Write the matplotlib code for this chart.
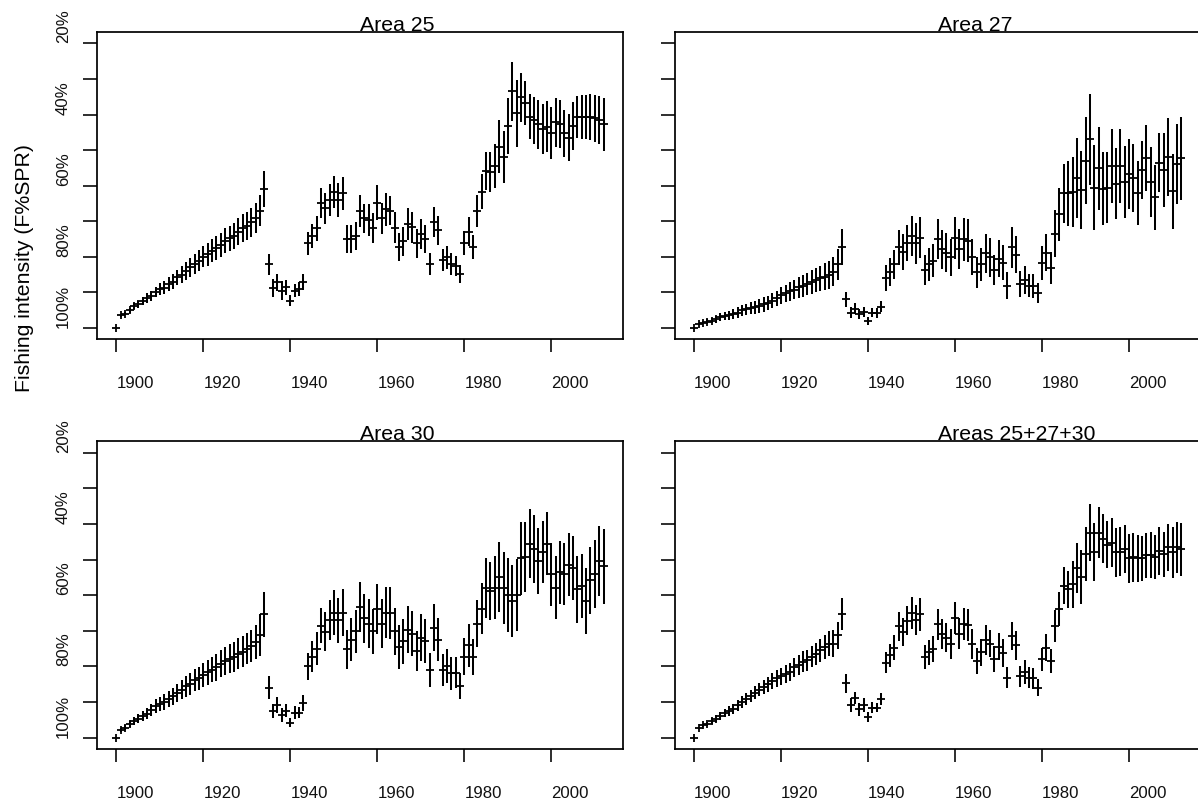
import matplotlib
matplotlib.use('Agg')
import matplotlib.pyplot as plt
import numpy as np

plt.rcParams['font.family'] = ['Liberation Sans', 'DejaVu Sans']

years = np.arange(1900, 2013)

# median fishing intensity per year
mean_25 = [100, 96.4, 96, 95, 93.9, 93.3, 92.4, 91.6, 90.9, 89.9,
           89, 88.7, 87.6, 87, 85.8, 85, 84, 83, 82.1, 81.1,
           80, 79.3, 78.3, 77.6, 76.7, 75.5, 74.8, 74.2, 72.9, 72,
           71.3, 70.3, 69.2, 67, 61, 82.1, 88.7, 87.2, 89.5, 88.6,
           92.3, 89.5, 89.1, 87.1, 76.2, 74.2, 72, 65, 66.4, 64,
           61.9, 64, 62.2, 75.1, 75.1, 74.1, 67, 69.2, 69.7, 72,
           64.8, 69.2, 66.7, 67, 71.8, 77.3, 75.6, 70.8, 71.7, 76.2,
           73.6, 75, 82.1, 70.2, 72.5, 80.9, 80.2, 82.1, 82.6, 84.8,
           76.2, 72.9, 77.3, 67, 61.7, 55.8, 56.1, 54.5, 49, 51.9,
           43.2, 33.5, 39.7, 35.2, 36.7, 40.6, 41.6, 42.7, 44.1, 43.4,
           45.3, 42.2, 42.7, 45.3, 46.5, 43.2, 40.7, 40.7, 40.7, 40.7,
           41.1, 41.6, 42.8]
err_25 = [0, .4, .5, .7, .9, 1, 1.2, 1.3, 1.4, 1.5,
          1.7, 1.8, 1.9, 2.1, 2.2, 2.4, 2.5, 2.6, 2.8, 2.9,
          3, 3.2, 3.2, 3.4, 3.4, 3.5, 3.5, 3.7, 3.7, 3.9,
          3.9, 4.1, 4.2, 4.4, 5, 2.9, 2.5, 2.5, 2.7, 2.1,
          1.5, 1.9, 2, 2.3, 3.3, 3.3, 3.5, 4.2, 4.4, 4.5,
          4.5, 4.7, 4.7, 3.9, 3.9, 4, 4.5, 4.1, 4.5, 4.2,
          4.9, 4.4, 4.6, 4.2, 4.4, 3.9, 4.1, 4.5, 4.4, 4.1,
          4.2, 3.9, 3.1, 4.2, 4.1, 3, 3.3, 3.1, 2.9, 2.6,
          3.4, 4, 3.4, 4.5, 5, 5.4, 5.7, 6.3, 7.4, 7.4,
          7.9, 8.2, 9.3, 7, 6.2, 6.3, 6.6, 6.9, 7.1, 7.2,
          7.3, 6.9, 6.8, 6.7, 6.6, 6.7, 5.9, 6.3, 6.3, 6.6,
          6.6, 6.8, 7.4]

mean_27 = [100, 98.9, 98.5, 98.2, 98, 97.6, 97, 96.7, 96.5, 96.1,
           95.7, 95.1, 94.8, 94.5, 94.2, 93.8, 93.4, 93.1, 92.3, 91.7,
           90.8, 90.3, 89.7, 89.2, 88.6, 88.1, 87.7, 87.1, 86.5, 86.1,
           85.6, 85.1, 84.2, 82.1, 77.3, 92, 95.7, 94.6, 96.1, 95.5,
           98, 95.7, 95.7, 94, 85.9, 84.2, 82.1, 77.3, 78.7, 76.2,
           74.2, 76.2, 74.6, 83.7, 82.1, 81.1, 75.1, 77.9, 78.8, 80.1,
           74.6, 77.8, 75.1, 75.5, 80.1, 84.4, 82.1, 79, 80.1, 83.7,
           80.5, 81.7, 88.1, 77.3, 79.4, 87.6, 86.5, 88.1, 88.1, 90.3,
           81.7, 78.8, 83.2, 73.5, 68.1, 62.2, 62.2, 61.8, 57.8, 61.2,
           53, 47, 60.6, 55.1, 60.9, 60.6, 54.5, 59.5, 54.5, 58.9,
           56.7, 57.8, 62.2, 55.6, 52.3, 58.9, 63.3, 53.5, 55.6, 51.9,
           61.6, 54, 52.3]
err_27 = [0, .3, .5, .6, .7, 1, 1.1, 1.1, 1.2, 1.3,
          1.5, 1.6, 1.6, 1.7, 1.8, 1.9, 2, 2, 2.1, 2.2,
          2.4, 2.5, 2.6, 2.8, 2.9, 3.1, 3.1, 3.3, 3.4, 3.6,
          3.8, 3.9, 4, 4.4, 5.1, 2.1, 1.6, 1.5, 1.3, 1.5,
          1.1, 1.3, 1.4, 1.5, 3.6, 3.9, 4.1, 4.9, 5, 5,
          5.7, 5.7, 5.8, 4.1, 4.7, 4.7, 5.6, 5.4, 5.5, 5.2,
          5.9, 5.7, 6, 6, 5, 4.4, 4.7, 5.5, 5.5, 4.1,
          5.2, 4.9, 3.7, 5.8, 5.2, 3.7, 3.9, 3.3, 3.4, 2.8,
          4.8, 5.2, 4.5, 6.6, 7.4, 8.4, 9.1, 9.9, 11.2, 10.9,
          12.2, 12.7, 11.9, 11.7, 10.3, 10, 10.5, 10, 10.3, 10.1,
          9.9, 9.6, 9, 8.1, 9.3, 9.8, 9.1, 8.4, 10.3, 10.9,
          10.6, 11.2, 11.7]

mean_30 = [100, 97.8, 97.3, 96.1, 95.4, 94.7, 93.9, 93.3, 92.3, 91.2,
           90.6, 90, 89.1, 88.4, 87.5, 86.5, 85.6, 85, 83.9, 83.4,
           82.5, 81.6, 80.9, 80.2, 79.2, 78.5, 77.8, 77.3, 76.4, 75.9,
           75, 74.3, 73.1, 71.3, 65.4, 86, 92.5, 90.9, 93.6, 92.5,
           95.8, 93, 93, 90.3, 80, 77.3, 75, 68.6, 70.3, 67,
           64.9, 67, 64.9, 75.2, 72.5, 70.2, 63.3, 66.5, 68, 70.2,
           63.8, 68, 64.9, 64.9, 70.2, 74.5, 73, 69.7, 70.8, 75.7,
           71.9, 72.9, 81.1, 69.2, 72.5, 81.1, 80, 82, 81.8, 85.5,
           77.3, 74.1, 77.3, 68, 63.8, 57.9, 58.9, 57.9, 55, 57.9,
           60, 61.6, 60, 49.7, 49.2, 45.5, 47.1, 50.4, 48, 45.5,
           54.2, 57.9, 53.6, 54.1, 51.4, 52.3, 58.4, 57.4, 61.6, 55.8,
           54.1, 50.4, 51.9]
err_30 = [0, .5, .7, .9, 1.1, 1.3, 1.4, 1.5, 1.7, 1.9,
          2, 2.2, 2.3, 2.4, 2.6, 2.7, 2.9, 3, 3.1, 3.3,
          3.4, 3.5, 3.6, 3.8, 3.9, 4, 4.1, 4.2, 4.3, 4.3,
          4.4, 4.6, 4.8, 5.9, 6.3, 3.3, 1.9, 2.3, 1.9, 1.8,
          1.2, 1.8, 1.6, 2.3, 3.8, 4.4, 4.7, 4.9, 5.5, 5.7,
          6.3, 6.3, 6.6, 5.5, 6, 6.1, 7.1, 6.8, 6.9, 6.3,
          7, 6.8, 7.2, 7.3, 6.6, 6.1, 6.2, 6.6, 6.3, 5.7,
          6.5, 6.2, 4.8, 6.6, 6, 4.5, 4.8, 4.5, 4.3, 3.6,
          5.2, 6.1, 5, 6.6, 7.1, 8.4, 8.2, 8.9, 9.8, 10.1,
          10.3, 10.1, 10.1, 10.2, 9.8, 9.6, 9.5, 9.3, 8.7, 8.9,
          8.8, 8.8, 8.8, 8.7, 8.8, 9, 9.3, 8.9, 9.3, 9.4,
          9.6, 9.9, 10.6]

mean_all = [100, 97.3, 96.6, 96.1, 95.4, 94.7, 93.9, 93.1, 92.5, 91.9,
            90.9, 90, 89.2, 88.3, 87.4, 86.5, 85.8, 85, 84.1, 83.4,
            82.8, 82.2, 81.6, 80.3, 79.7, 78.7, 78.3, 77.3, 76.6, 75.5,
            74.5, 73.6, 73.6, 71.3, 65.4, 84.8, 90.9, 89, 92.1, 90.9,
            94.2, 91.6, 91.6, 89.2, 79, 76.9, 74.7, 68.7, 70.3, 67.2,
            65, 67, 65.4, 77.3, 76.1, 75.2, 68.2, 70.9, 71.9, 73.6,
            66.3, 70.8, 68.2, 68.4, 73.6, 78.5, 76.1, 72.5, 73.6, 78,
            74.5, 76.2, 83.2, 71.4, 74.1, 82.8, 81.6, 83.2, 83.4, 86,
            78, 74.7, 78.5, 68.7, 64, 57.4, 58.4, 56.9, 52.3, 54.9,
            48.5, 42.5, 47.9, 42.5, 44.2, 45.8, 45.3, 48, 47.8, 47.1,
            49.7, 49.4, 49.7, 49.7, 48.8, 48.8, 49.2, 47.6, 48.5, 46.6,
            48, 46.6, 47.1]
err_all = [0, .4, .5, .6, .8, 1, 1.1, 1.2, 1.3, 1.4,
           1.5, 1.6, 1.7, 1.8, 1.9, 1.9, 2, 2.1, 2.2, 2.3,
           2.4, 2.5, 2.6, 2.7, 2.8, 2.9, 3, 3, 3.1, 3.2,
           3.4, 3.5, 3.7, 3.9, 4.5, 2.6, 1.9, 1.7, 1.9, 1.9,
           1.3, 1.5, 1.3, 1.7, 3, 3.3, 3.4, 4.1, 4, 4.1,
           4.5, 4.1, 4.6, 3.3, 3.5, 3.7, 4.4, 4.1, 4.1, 4.2,
           4.5, 4.4, 4.5, 4.5, 4.2, 3.6, 3.8, 4.2, 3.8, 3.6,
           3.8, 3.9, 2.9, 4, 4, 3, 3.3, 2.9, 2.9, 2.4,
           3.3, 3.9, 3.3, 4.5, 4.8, 5.2, 5.2, 6.6, 7, 7.7,
           7.5, 8, 8.2, 7.2, 6.9, 6.7, 6.9, 6.9, 6.9, 6.7,
           7, 6.9, 6.6, 6.3, 6.3, 6.4, 6.2, 6.7, 6.3, 6.5,
           7.1, 7.1, 7.4]

titles = ['Area 25', 'Area 27', 'Area 30', 'Areas 25+27+30']
means = [mean_25, mean_27, mean_30, mean_all]
errs = [err_25, err_27, err_30, err_all]

y_ticks = [20, 30, 40, 50, 60, 70, 80, 90, 100]
y_labels = ['20%', '', '40%', '', '60%', '', '80%', '', '100%']
x_ticks = [1900, 1920, 1940, 1960, 1980, 2000]

W, H = 1198, 805
fig = plt.figure(figsize=(W / 100, H / 100), dpi=100)

# panels in pixel boxes: left, top, width, height
boxes = [(97, 32, 526, 307.3), (674.7, 32, 526, 307.3),
         (97, 441.3, 526, 307.7), (674.7, 441.3, 526, 307.7)]

for i in range(4):
    l, t, w, h = boxes[i]
    ax = fig.add_axes([l / W, 1 - (t + h) / H, w / W, h / H])
    ax.vlines(years, np.array(means[i]) - np.array(errs[i]),
              np.array(means[i]) + np.array(errs[i]), color='k', lw=1.45)
    ax.plot(years, means[i], '+', color='k', ms=6, mew=1.3)
    ax.set_xlim(1895.52, 2016.48)
    ax.set_ylim(103.2, 16.8)
    ax.set_xticks(x_ticks)
    ax.set_yticks(y_ticks)
    for s in ax.spines.values():
        s.set_linewidth(1.25)
    ax.tick_params(axis='x', length=9.5, width=1.15, pad=17, labelsize=12.1, labelcolor='#111111')
    ax.tick_params(axis='y', length=10, width=1.15, pad=8.7, labelsize=12.1, labelcolor='#111111')
    for lab in ax.get_xticklabels():
        lab.set_ha('left')
    if i % 2 == 0:
        ax.set_yticklabels(y_labels, rotation=90, va='bottom', ha='right')
    else:
        ax.set_yticklabels([])
    # R device left-aligned everything at the anchor
    ax.annotate(titles[i], xy=(0.5, 1), xycoords='axes fraction', xytext=(0, 1),
                textcoords='offset points', ha='left', va='baseline', fontsize=15.3,
                annotation_clip=False)

fig.text(25 / W, 1 - 392 / H, 'Fishing intensity (F%SPR)', rotation=90,
         ha='center', va='bottom', fontsize=15.3)

fig.savefig('out.png', dpi=100)
